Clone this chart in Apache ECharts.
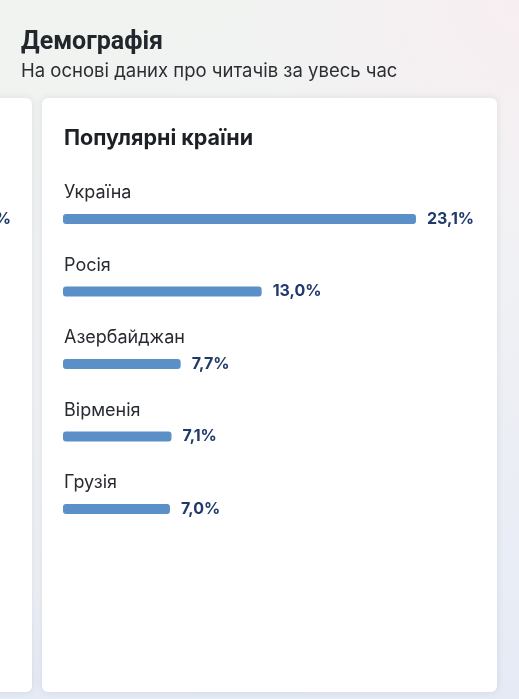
<!DOCTYPE html>
<html>
<head>
<meta charset="utf-8">
<script src="https://cdn.jsdelivr.net/npm/echarts@6/dist/echarts.min.js"></script>
<style>
html,body{margin:0;padding:0;background:#f1f3f0;}
#c{width:519px;height:699px;}
</style>
</head>
<body>
<div id="c"></div>
<script>
const categories = ['Україна', 'Росія', 'Азербайджан', 'Вірменія', 'Грузія'];
const shares = [23.1, 13.0, 7.7, 7.1, 7.0];
const pageTitle = 'Демографія';
const pageSubtitle = 'На основі даних про читачів за увесь час';
const cardTitle = 'Популярні країни';

const chart = echarts.init(document.getElementById('c'), null, {renderer: 'canvas'});
const FONT = 'Inter, "Noto Sans", sans-serif';

const option = {
  animation: false,
  backgroundColor: {
    type: 'linear', x: 0, y: 0, x2: 0.6, y2: 1,
    colorStops: [
      {offset: 0, color: '#f1f3f0'},
      {offset: 0.5, color: '#f1f2f4'},
      {offset: 1, color: '#e8ecf5'}
    ]
  },
  graphic: [
    {type: 'rect', z: -10, silent: true, shape: {x: 250, y: 0, width: 269, height: 400},
     style: {fill: {type: 'radial', x: 1, y: 0, r: 1, colorStops: [{offset: 0, color: 'rgba(247,238,241,1)'}, {offset: 1, color: 'rgba(247,238,241,0)'}]}}},
    {type: 'rect', z: -10, silent: true, shape: {x: 0, y: 600, width: 519, height: 99},
     style: {fill: {type: 'linear', x: 0, y: 0, x2: 0, y2: 1, colorStops: [{offset: 0, color: 'rgba(229,234,244,0)'}, {offset: 1, color: 'rgba(229,234,244,1)'}]}}},
    // left partial card
    {type: 'rect', z: -5, silent: true, shape: {x: -10, y: 98, width: 42, height: 594, r: 6},
     style: {fill: '#ffffff', shadowBlur: 7, shadowColor: 'rgba(60,75,100,0.13)'}},
    // main card
    {type: 'rect', z: -5, silent: true, shape: {x: 42, y: 98, width: 455, height: 594, r: 6},
     style: {fill: '#ffffff', shadowBlur: 7, shadowColor: 'rgba(60,75,100,0.13)'}},
    {type: 'text', silent: true, x: 21, y: 43,
     style: {text: pageTitle, font: 'bold 25px Roboto, ' + FONT, fill: '#21272c', textVerticalAlign: 'middle'}},
    {type: 'text', silent: true, x: 21, y: 71,
     style: {text: pageSubtitle, font: '18.5px ' + FONT, fill: '#2b2f34', textVerticalAlign: 'middle'}},
    {type: 'text', silent: true, x: 64, y: 139,
     style: {text: cardTitle, font: 'bold 21.5px ' + FONT, fill: '#1d2125', textVerticalAlign: 'middle'}},
    {type: 'text', silent: true, x: 11, y: 219,
     style: {text: '%', font: 'bold 16px ' + FONT, fill: '#1f3a6b', textAlign: 'right', textVerticalAlign: 'middle'}}
  ],
  grid: {left: 63, right: 74, top: 182.75, bottom: 153.75, containLabel: false},
  xAxis: {
    type: 'value', min: 0, max: 25,
    show: false
  },
  yAxis: {
    type: 'category', inverse: true, data: categories,
    axisLine: {show: false}, axisTick: {show: false}, splitLine: {show: false},
    axisLabel: {
      inside: true, margin: 1, align: 'left', verticalAlign: 'bottom',
      lineHeight: 52,
      fontFamily: FONT, fontSize: 18, color: '#272b30'
    }
  },
  series: [{
    type: 'bar', data: shares, barWidth: 10,
    itemStyle: {color: '#5b8fc7', borderRadius: 3},
    label: {
      show: true, position: 'right', distance: 11,
      formatter: p => p.value.toFixed(1).replace('.', ',') + '%',
      fontFamily: FONT, fontSize: 16, fontWeight: 'bold', color: '#1f3a6b'
    }
  }]
};
chart.setOption(option);
</script>
</body>
</html>
